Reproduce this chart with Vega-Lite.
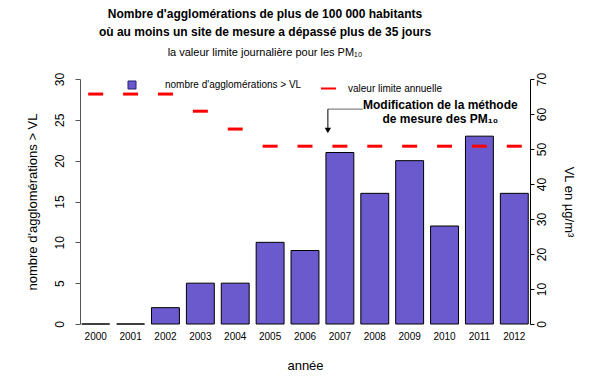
{
  "$schema": "https://vega.github.io/schema/vega-lite/v6.json",
  "width": 450,
  "height": 245,
  "autosize": {"type": "none"},
  "padding": {"left": 80, "top": 79, "right": 70, "bottom": 62},
  "background": "white",
  "config": {
    "font": "Liberation Sans",
    "view": {"stroke": null},
    "axisRight": {
      "values": [0, 10, 20, 30, 40, 50, 60, 70], "grid": false, "labelOverlap": false,
      "labelAngle": -90, "labelAlign": "center", "labelBaseline": "top",
      "labelFontSize": 12, "labelPadding": 2, "labelColor": "black",
      "tickSize": 4, "tickColor": "black", "domainColor": "black",
      "titleFontSize": 13, "titleFontWeight": "normal", "titleColor": "black", "titlePadding": 14
    }
  },
  "title": {
    "text": ["Nombre d'agglomérations de plus de 100 000 habitants", "où au moins un site de mesure a dépassé plus de 35 jours"],
    "subtitle": "la valeur limite journalière pour les PM₁₀",
    "fontSize": 12,
    "fontWeight": "bold",
    "color": "black",
    "subtitleFontSize": 11,
    "subtitleColor": "black",
    "subtitleLineHeight": 16,
    "lineHeight": 18,
    "subtitlePadding": 8,
    "anchor": "middle",
    "dx": -40,
    "offset": 13
  },
  "datasets": {
    "main": [
      {"year": "2000", "n": 0, "vl": 65.7},
      {"year": "2001", "n": 0, "vl": 65.7},
      {"year": "2002", "n": 2, "vl": 65.7},
      {"year": "2003", "n": 5, "vl": 60.8},
      {"year": "2004", "n": 5, "vl": 55.7},
      {"year": "2005", "n": 10, "vl": 50.8},
      {"year": "2006", "n": 9, "vl": 50.8},
      {"year": "2007", "n": 21, "vl": 50.8},
      {"year": "2008", "n": 16, "vl": 50.8},
      {"year": "2009", "n": 20, "vl": 50.8},
      {"year": "2010", "n": 12, "vl": 50.8},
      {"year": "2011", "n": 23, "vl": 50.8},
      {"year": "2012", "n": 16, "vl": 50.8}
    ],
    "hline": [
      {"year": "2007", "y": 61.4},
      {"year": "2008", "y": 61.4}
    ],
    "vline": [
      {"year": "2007", "y": 61.4, "y2": 56}
    ],
    "head": [
      {"year": "2007", "y": 55.3}
    ],
    "note": [
      {"year": "2010", "y": 62.7, "label": "Modification de la méthode\nde  mesure des PM₁₀"}
    ]
  },
  "layer": [
    {
      "data": {"name": "main"},
      "mark": {"type": "bar", "stroke": "black", "strokeWidth": 1, "opacity": 1},
      "encoding": {
        "x": {
          "field": "year", "type": "ordinal", "title": "année",
          "scale": {"paddingInner": 0.2, "paddingOuter": 0.05},
          "axis": {
            "labelAngle": 0, "domain": false, "ticks": false,
            "labelFontSize": 10, "labelPadding": 7, "labelColor": "black",
            "titleFontSize": 13, "titleFontWeight": "normal", "titleColor": "black", "titlePadding": 18
          }
        },
        "y": {
          "field": "n", "type": "quantitative", "title": "nombre d'agglomérations > VL",
          "scale": {"domain": [0, 30], "nice": false},
          "axis": {
            "orient": "left", "values": [0, 5, 10, 15, 20, 25, 30], "grid": false, "labelOverlap": false,
            "labelAngle": -90, "labelAlign": "center", "labelBaseline": "bottom",
            "labelFontSize": 12, "labelPadding": 9, "labelColor": "black",
            "tickSize": 5, "tickColor": "#555", "domainColor": "#555",
            "titleFontSize": 13, "titleFontWeight": "normal", "titleColor": "black", "titlePadding": 14
          }
        },
        "color": {
          "datum": "nombre d'agglomérations > VL",
          "scale": {"range": ["#6a5acd"]},
          "legend": {
            "orient": "none", "legendX": 47, "legendY": 1, "title": null, "padding": 0,
            "symbolType": "square", "symbolSize": 64, "symbolStrokeColor": "#22226e", "symbolStrokeWidth": 1,
            "labelFontSize": 10, "labelOffset": 28, "labelColor": "black"
          }
        }
      }
    },
    {
      "layer": [
        {
          "data": {"name": "main"},
          "mark": {"type": "tick", "thickness": 3, "size": 15, "opacity": 1},
          "encoding": {
            "x": {"field": "year", "type": "ordinal", "title": "année"},
            "y": {
              "field": "vl", "type": "quantitative", "title": "VL en µg/m³",
              "scale": {"domain": [0, 70], "nice": false},
              "axis": {"orient": "right", "values": [0, 10, 20, 30, 40, 50, 60, 70]}
            },
            "color": {
              "datum": "valeur limite annuelle",
              "scale": {"range": ["#ff0000"]},
              "legend": {
                "orient": "none", "legendX": 240, "legendY": 1, "title": null, "padding": 0,
                "symbolType": "stroke", "symbolSize": 225, "symbolStrokeColor": "#ff0000", "symbolStrokeWidth": 2,
                "symbolOpacity": 1,
                "labelFontSize": 10, "labelOffset": 11, "labelColor": "black"
              }
            }
          }
        },
        {
          "data": {"name": "hline"},
          "mark": {"type": "line", "color": "#666", "strokeWidth": 1},
          "encoding": {
            "x": {"field": "year", "type": "ordinal", "title": "année", "bandPosition": 0.07},
            "y": {"field": "y", "type": "quantitative", "title": "VL en µg/m³", "axis": {"orient": "right", "values": [0, 10, 20, 30, 40, 50, 60, 70]}}
          }
        },
        {
          "data": {"name": "vline"},
          "mark": {"type": "rule", "color": "black", "strokeWidth": 1},
          "encoding": {
            "x": {"field": "year", "type": "ordinal", "title": "année", "bandPosition": 0.07},
            "y": {"field": "y", "type": "quantitative", "title": "VL en µg/m³", "axis": {"orient": "right", "values": [0, 10, 20, 30, 40, 50, 60, 70]}},
            "y2": {"field": "y2"}
          }
        },
        {
          "data": {"name": "head"},
          "mark": {"type": "point", "shape": "triangle-down", "filled": true, "color": "black", "size": 40, "opacity": 1},
          "encoding": {
            "x": {"field": "year", "type": "ordinal", "title": "année", "bandPosition": 0.07},
            "y": {"field": "y", "type": "quantitative", "title": "VL en µg/m³", "axis": {"orient": "right", "values": [0, 10, 20, 30, 40, 50, 60, 70]}}
          }
        },
        {
          "data": {"name": "note"},
          "mark": {"type": "text", "fontSize": 12, "fontWeight": "bold", "lineBreak": "\n", "lineHeight": 14, "align": "center", "baseline": "middle", "color": "black"},
          "encoding": {
            "x": {"field": "year", "type": "ordinal", "title": "année", "bandPosition": 0.35},
            "y": {"field": "y", "type": "quantitative", "title": "VL en µg/m³", "axis": {"orient": "right", "values": [0, 10, 20, 30, 40, 50, 60, 70]}},
            "text": {"field": "label"}
          }
        }
      ]
    }
  ],
  "resolve": {"scale": {"y": "independent", "color": "independent"}}
}
